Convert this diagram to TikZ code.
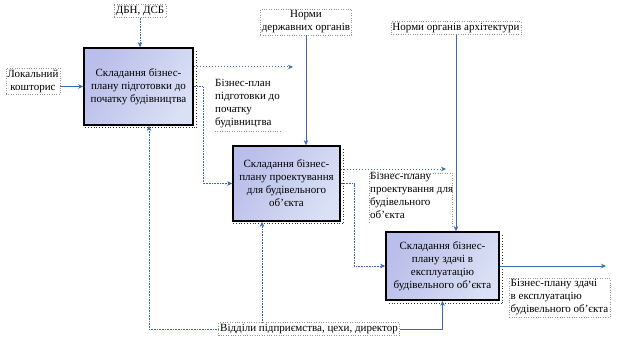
\documentclass[tikz,border=0pt]{standalone}
\usepackage{fontspec}
\setmainfont{Liberation Serif}
\usetikzlibrary{arrows.meta}
\definecolor{lnblue}{RGB}{60,105,180}
\definecolor{boxdark}{RGB}{186,190,234}
\definecolor{boxlight}{RGB}{218,224,245}
\definecolor{frm}{RGB}{150,150,150}
\begin{document}
\begin{tikzpicture}[x=1pt,y=-1pt,
  every node/.style={font=\fontsize{11}{13}\selectfont, inner sep=0pt},
  procbox/.style={draw=black, line width=1.7pt, left color=boxdark, right color=boxlight, shading angle=60, align=center},
  lbl/.style={draw=frm, dotted, line width=0.4pt, align=center, inner sep=1.5pt},
  lbltxt/.style={align=left, anchor=north west},
  tip/.style={-{Stealth[length=5pt,width=4.5pt]}},
  sline/.style={draw=lnblue, line width=0.7pt, tip},
  dline/.style={draw=lnblue, line width=1pt, dotted, tip},
  tline/.style={draw=lnblue, line width=0.6pt, densely dotted, tip},
  shad/.style={draw=black!80, dotted, line width=0.8pt}
]
\useasboundingbox (0,0) rectangle (619,345);
\fill[white] (0,0) rectangle (619,345);

% process boxes
\node[procbox, minimum width=109pt, minimum height=77pt] (b1) at (138.5,86.5)
  {Складання бізнес-\\плану підготовки до\\початку будівництва};
\node[procbox, minimum width=107pt, minimum height=75pt] (b2) at (286.5,183.5)
  {Складання бізнес-\\плану проектування\\для будівельного\\об'єкта};
\node[procbox, minimum width=113pt, minimum height=68pt] (b3) at (442.5,266)
  {Складання бізнес-\\плану здачі в\\експлуатацію\\будівельного об'єкта};

% shadows
\draw[shad] ([xshift=3pt,yshift=-4pt]b1.north east) -- ([xshift=3pt,yshift=-2pt]b1.south east) -- ([yshift=-2pt]b1.south west);
\draw[shad] ([xshift=3pt,yshift=-4pt]b2.north east) -- ([xshift=3pt,yshift=-2pt]b2.south east) -- ([yshift=-2pt]b2.south west);
\draw[shad] ([xshift=3pt,yshift=-4pt]b3.north east) -- ([xshift=3pt,yshift=-3pt]b3.south east) -- ([xshift=2pt,yshift=-3pt]b3.south west);

% labels
\node[lbl] (dbn) at (140,11) {ДБН, ДСБ};
\node[lbl] (nda) at (306,22) {Норми\\державних органів};
\node[lbl] (noa) at (456,28) {Норми органів архітектури};
\node[lbl] (lk) at (33,81) {Локальний\\кошторис};
\node[lbltxt] (l5) at (215,79) {Бізнес-план\\підготовки до\\початку\\будівництва};
\draw[frm, dotted, line width=0.4pt] (215,131) -- (280,131);
\node[lbltxt] (l6) at (370,172) {Бізнес-плану\\проектування для\\будівельного\\об'єкта};
\draw[frm, dotted, line width=0.4pt] (369,222) -- (369,173) -- (452,173) -- (452,226);
\node[lbl, align=left, anchor=north west] (l11) at (509,278) {Бізнес-плану здачі\\в експлуатацію\\будівельного об'єкта};
\node[lbl] (vid) at (309,329) {Відділи підприємства, цехи, директор};

% free ends / bends
\coordinate (o1) at (293,67);
\coordinate (o2) at (446,169);
\coordinate (o3) at (606,266);
\coordinate (k1) at (203,0);
\coordinate (k2) at (354,0);
\coordinate (v1) at (149,0);
\coordinate (v2) at (262,0);

% connectors
\draw[tline] (dbn.south) -- (dbn.south |- b1.north);
\draw[sline] (b1.west -| lk.east) -- (b1.west);
\draw[dline] (b1.east |- o1) -- (o1);
\draw[tline] (b1.east) -| (k1 |- b2.west) -- (b2.west);
\draw[sline] (nda.south) -- (nda.south |- b2.north);
\draw[sline] (noa.south) -- (noa.south |- b3.north);
\draw[dline] (b2.east |- o2) -- (o2);
\draw[tline] (b2.east) -| (k2 |- b3.west) -- (b3.west);
\draw[sline] (b3.east) -- (o3);
\draw[tline] (vid.west) -| (v1 |- b1.south);
\draw[tline] (v2 |- vid.north) -- (v2 |- b2.south);
\draw[sline] (vid.east) -| (b3.south);
\end{tikzpicture}
\end{document}
